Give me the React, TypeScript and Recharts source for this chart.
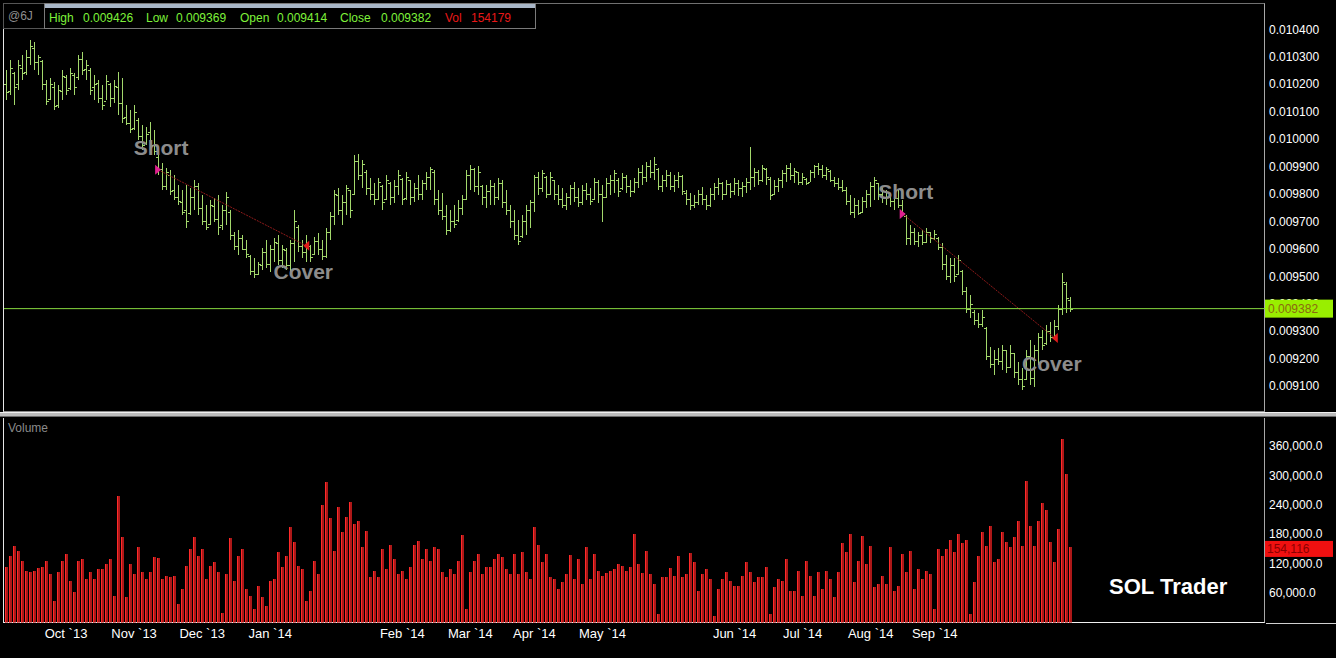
import React from "react";
import { ComposedChart, Bar, XAxis, YAxis, ReferenceLine, ReferenceDot } from "recharts";

// Prices in millionths (0.010200 -> 10200)
const openP = [
  10200, 10175, 10240, 10200, 10260, 10245, 10300, 10330, 10280, 10285,
  10200, 10145, 10190, 10125, 10175, 10225, 10185, 10235, 10225, 10290,
  10255, 10250, 10190, 10205, 10150, 10140, 10200, 10150, 10190, 10130,
  10080, 10060, 10040, 10070, 10010, 9985, 10025, 9980, 9935, 9890,
  9830, 9870, 9815, 9790, 9770, 9740, 9730, 9790, 9830, 9750,
  9700, 9690, 9755, 9710, 9685, 9740, 9735, 9650, 9610, 9640,
  9600, 9575, 9520, 9510, 9540, 9590, 9545, 9600, 9620, 9560,
  9595, 9540, 9620, 9680, 9610, 9590, 9610, 9580, 9630, 9600,
  9575, 9660, 9720, 9795, 9740, 9770, 9815, 9800, 9920, 9870,
  9880, 9820, 9800, 9780, 9830, 9780, 9840, 9790, 9830, 9855,
  9785, 9850, 9790, 9820, 9800, 9840, 9860, 9880, 9780, 9740,
  9720, 9670, 9700, 9705, 9750, 9780, 9870, 9890, 9830, 9830,
  9790, 9810, 9830, 9790, 9840, 9770, 9740, 9700, 9650, 9645,
  9700, 9740, 9770, 9860, 9820, 9860, 9800, 9850, 9800, 9780,
  9760, 9790, 9820, 9790, 9770, 9815, 9800, 9780, 9845, 9800,
  9790, 9840, 9850, 9850, 9820, 9860, 9830, 9810, 9845, 9880,
  9860, 9900, 9880, 9890, 9830, 9850, 9870, 9830, 9850, 9865,
  9805, 9780, 9760, 9770, 9800, 9780, 9760, 9800, 9825, 9840,
  9800, 9835, 9810, 9840, 9820, 9830, 9845, 9860, 9880, 9850,
  9890, 9855, 9800, 9830, 9850, 9875, 9895, 9870, 9880, 9845,
  9855, 9845, 9880, 9900, 9890, 9870, 9885, 9850, 9840, 9825,
  9815, 9775, 9735, 9760, 9735, 9775, 9800, 9830, 9840, 9800,
  9810, 9790, 9775, 9785, 9760, 9720, 9640, 9660, 9630, 9650,
  9625, 9660, 9640, 9640, 9605, 9545, 9500, 9540, 9510, 9520,
  9445, 9380, 9370, 9340, 9325, 9310, 9210, 9180, 9200, 9190,
  9230, 9170, 9220, 9150, 9125, 9125, 9210, 9130, 9230, 9280,
  9255, 9300, 9280, 9320, 9380, 9470, 9414,
];

const highP = [
  10252, 10288, 10245, 10288, 10307, 10325, 10361, 10354, 10307, 10288,
  10216, 10223, 10208, 10197, 10252, 10234, 10259, 10241, 10307, 10318,
  10288, 10259, 10234, 10216, 10197, 10234, 10205, 10216, 10245, 10223,
  10124, 10106, 10124, 10077, 10052, 10044, 10062, 10033, 9942, 9913,
  9895, 9888, 9869, 9833, 9815, 9833, 9822, 9851, 9840, 9796,
  9760, 9778, 9785, 9796, 9760, 9807, 9742, 9662, 9669, 9651,
  9632, 9578, 9567, 9552, 9603, 9632, 9614, 9640, 9651, 9614,
  9603, 9632, 9742, 9687, 9632, 9651, 9614, 9643, 9658, 9632,
  9676, 9734, 9815, 9822, 9796, 9833, 9815, 9942, 9946, 9924,
  9888, 9858, 9840, 9858, 9833, 9869, 9844, 9851, 9888, 9858,
  9880, 9851, 9840, 9869, 9851, 9880, 9898, 9888, 9815, 9804,
  9760, 9742, 9760, 9778, 9796, 9888, 9906, 9895, 9902, 9833,
  9833, 9851, 9840, 9858, 9851, 9815, 9760, 9742, 9705, 9723,
  9760, 9778, 9869, 9880, 9888, 9866, 9880, 9851, 9833, 9822,
  9804, 9833, 9844, 9822, 9833, 9840, 9822, 9858, 9851, 9833,
  9858, 9869, 9888, 9858, 9877, 9869, 9851, 9858, 9895, 9906,
  9917, 9924, 9935, 9895, 9869, 9888, 9880, 9869, 9880, 9869,
  9815, 9804, 9796, 9815, 9826, 9796, 9822, 9840, 9858, 9844,
  9851, 9840, 9858, 9851, 9844, 9858, 9971, 9895, 9888, 9906,
  9895, 9862, 9851, 9858, 9888, 9906, 9913, 9895, 9880, 9877,
  9858, 9888, 9906, 9913, 9906, 9898, 9888, 9862, 9858, 9851,
  9826, 9796, 9785, 9778, 9789, 9815, 9844, 9862, 9840, 9822,
  9815, 9804, 9796, 9815, 9778, 9723, 9687, 9676, 9662, 9669,
  9676, 9662, 9669, 9643, 9622, 9578, 9567, 9567, 9578, 9523,
  9461, 9432, 9377, 9366, 9377, 9315, 9242, 9232, 9239, 9250,
  9232, 9250, 9221, 9188, 9166, 9232, 9268, 9250, 9294, 9304,
  9323, 9333, 9341, 9396, 9512, 9479, 9426,
];

const lowP = [
  10143, 10161, 10124, 10179, 10216, 10234, 10270, 10252, 10234, 10179,
  10124, 10143, 10106, 10113, 10143, 10161, 10179, 10161, 10216, 10234,
  10216, 10161, 10143, 10132, 10106, 10143, 10117, 10132, 10088, 10059,
  10052, 10022, 10033, 9997, 9960, 9979, 9960, 9942, 9869, 9815,
  9815, 9796, 9778, 9760, 9723, 9676, 9723, 9742, 9723, 9687,
  9669, 9687, 9698, 9651, 9669, 9687, 9632, 9596, 9578, 9596,
  9567, 9505, 9494, 9505, 9523, 9530, 9516, 9552, 9541, 9530,
  9523, 9505, 9552, 9589, 9567, 9552, 9552, 9578, 9578, 9560,
  9567, 9632, 9687, 9723, 9687, 9723, 9713, 9796, 9851, 9822,
  9796, 9778, 9760, 9778, 9742, 9778, 9760, 9767, 9796, 9760,
  9778, 9760, 9771, 9778, 9778, 9815, 9815, 9760, 9723, 9705,
  9651, 9662, 9676, 9698, 9723, 9778, 9815, 9807, 9796, 9760,
  9749, 9760, 9760, 9778, 9749, 9723, 9676, 9632, 9614, 9640,
  9651, 9676, 9734, 9796, 9807, 9785, 9796, 9778, 9760, 9749,
  9742, 9760, 9771, 9753, 9760, 9778, 9760, 9778, 9767, 9698,
  9785, 9796, 9804, 9789, 9815, 9804, 9789, 9804, 9822, 9833,
  9844, 9858, 9851, 9815, 9807, 9826, 9815, 9807, 9822, 9796,
  9760, 9742, 9749, 9760, 9760, 9742, 9753, 9778, 9796, 9778,
  9796, 9785, 9796, 9793, 9789, 9804, 9815, 9826, 9833, 9844,
  9833, 9778, 9796, 9807, 9822, 9844, 9851, 9840, 9833, 9833,
  9833, 9844, 9858, 9869, 9858, 9851, 9844, 9826, 9815, 9807,
  9760, 9723, 9713, 9723, 9731, 9749, 9753, 9778, 9778, 9767,
  9760, 9753, 9742, 9749, 9723, 9614, 9614, 9614, 9607, 9614,
  9622, 9622, 9632, 9596, 9523, 9487, 9476, 9479, 9505, 9432,
  9366, 9348, 9323, 9312, 9315, 9195, 9166, 9140, 9177, 9159,
  9148, 9166, 9130, 9104, 9086, 9122, 9104, 9097, 9177, 9232,
  9250, 9262, 9268, 9304, 9359, 9366, 9369,
];

const closeP = [
  10170, 10260, 10190, 10270, 10240, 10300, 10340, 10280, 10300, 10200,
  10140, 10200, 10120, 10180, 10230, 10180, 10240, 10190, 10290, 10250,
  10270, 10180, 10200, 10150, 10125, 10210, 10150, 10195, 10130, 10075,
  10060, 10035, 10100, 10010, 9980, 10020, 9975, 9955, 9890, 9830,
  9880, 9810, 9790, 9775, 9735, 9700, 9790, 9830, 9750, 9700,
  9680, 9760, 9710, 9680, 9740, 9790, 9650, 9610, 9640, 9600,
  9580, 9520, 9510, 9545, 9590, 9545, 9600, 9625, 9560, 9600,
  9540, 9620, 9700, 9610, 9590, 9615, 9570, 9630, 9600, 9575,
  9660, 9720, 9800, 9740, 9770, 9820, 9740, 9920, 9870, 9910,
  9820, 9800, 9780, 9845, 9770, 9850, 9790, 9830, 9870, 9780,
  9860, 9790, 9820, 9800, 9840, 9860, 9890, 9780, 9740, 9720,
  9670, 9700, 9690, 9750, 9780, 9870, 9890, 9830, 9880, 9790,
  9810, 9830, 9790, 9840, 9770, 9740, 9700, 9650, 9630, 9700,
  9740, 9770, 9860, 9820, 9875, 9800, 9860, 9800, 9780, 9760,
  9790, 9820, 9790, 9770, 9815, 9800, 9775, 9845, 9800, 9790,
  9840, 9850, 9875, 9810, 9860, 9830, 9810, 9845, 9880, 9860,
  9900, 9880, 9910, 9830, 9850, 9870, 9830, 9850, 9865, 9810,
  9780, 9760, 9770, 9800, 9780, 9760, 9800, 9825, 9840, 9800,
  9835, 9810, 9840, 9820, 9830, 9845, 9860, 9880, 9850, 9895,
  9860, 9795, 9830, 9850, 9875, 9895, 9870, 9885, 9845, 9860,
  9840, 9880, 9900, 9890, 9870, 9890, 9850, 9840, 9825, 9815,
  9775, 9735, 9760, 9730, 9775, 9800, 9830, 9850, 9800, 9810,
  9790, 9775, 9785, 9760, 9730, 9640, 9660, 9630, 9650, 9625,
  9660, 9640, 9655, 9605, 9545, 9500, 9540, 9500, 9560, 9445,
  9380, 9400, 9340, 9325, 9350, 9210, 9180, 9200, 9190, 9230,
  9170, 9220, 9150, 9125, 9100, 9210, 9130, 9230, 9280, 9250,
  9300, 9280, 9320, 9380, 9480, 9420, 9382,
];

// Volume in thousands of contracts
const volumeK = [
  113, 135, 155, 145, 125, 105, 103, 105, 111, 113,
  125, 98, 44, 103, 125, 139, 84, 62, 125, 129,
  88, 103, 88, 109, 109, 119, 129, 54, 257, 174,
  52, 119, 98, 153, 103, 88, 103, 133, 131, 88,
  94, 92, 94, 38, 68, 115, 149, 174, 135, 149,
  88, 115, 123, 103, 19, 98, 172, 84, 135, 149,
  68, 54, 28, 74, 52, 34, 84, 88, 143, 113,
  135, 194, 165, 115, 109, 44, 64, 125, 98, 240,
  287, 214, 145, 236, 184, 216, 246, 200, 206, 153,
  186, 92, 105, 92, 149, 109, 159, 129, 98, 105,
  88, 113, 159, 167, 129, 149, 125, 153, 149, 103,
  92, 109, 98, 125, 178, 28, 103, 125, 139, 98,
  113, 113, 129, 139, 133, 109, 98, 139, 98, 143,
  103, 88, 194, 159, 123, 139, 92, 88, 68, 82,
  98, 137, 88, 129, 78, 153, 88, 139, 105, 94,
  101, 105, 109, 119, 115, 105, 113, 180, 119, 101,
  145, 98, 78, 17, 92, 92, 111, 94, 135, 92,
  98, 141, 123, 64, 98, 109, 88, 13, 68, 88,
  103, 84, 74, 74, 94, 123, 103, 82, 92, 92,
  113, 17, 72, 88, 84, 129, 64, 64, 105, 54,
  125, 94, 54, 103, 68, 105, 88, 52, 103, 163,
  143, 180, 82, 125, 176, 119, 155, 72, 78, 94,
  78, 153, 64, 74, 139, 103, 145, 68, 109, 88,
  105, 98, 28, 149, 135, 149, 169, 143, 180, 163,
  169, 17, 82, 135, 184, 155, 196, 123, 129, 184,
  165, 153, 174, 206, 155, 289, 196, 155, 206, 244,
  230, 165, 123, 190, 374, 303, 154.116,
];

const monthTickIdx = [15, 32, 49, 66, 99, 116, 132, 149, 182, 199, 216, 232];
const monthLabels = ["Oct `13", "Nov `13", "Dec `13", "Jan `14", "Feb `14", "Mar `14", "Apr `14", "May `14", "Jun `14", "Jul `14", "Aug `14", "Sep `14"];

const priceTicks = [0.0091, 0.0092, 0.0093, 0.0094, 0.0095, 0.0096, 0.0097, 0.0098, 0.0099, 0.01, 0.0101, 0.0102, 0.0103, 0.0104];
const volumeTicks = [60000, 120000, 180000, 240000, 300000, 360000];

const shortIdx = [38, 224];
const shortPrice = [9888, 9727];
const coverIdx = [75, 262];
const coverPrice = [9611, 9275];

const headerVol = 154179;

const SLOT_COUNT = 315;
const BAR_GREEN = "#a3d86c";
const PRICE_DOMAIN: [number, number] = [0.009009, 0.010492];
const VOL_DOMAIN: [number, number] = [0, 417000];

type Row = { i: number; open?: number; high?: number; low?: number; close?: number; volume?: number };

const rows: Row[] = Array.from({ length: SLOT_COUNT }, (_, i) =>
  i < closeP.length
    ? {
        i,
        open: openP[i] / 1e6,
        high: highP[i] / 1e6,
        low: lowP[i] / 1e6,
        close: closeP[i] / 1e6,
        volume: Math.round(volumeK[i] * 1000),
      }
    : { i }
);

const last = closeP.length - 1;
const lastClose = closeP[last] / 1e6;
const lastVol = Math.round(volumeK[last] * 1000);

const OhlcShape = (props: any) => {
  const { x, y, width, height, payload } = props;
  if (!payload || payload.high == null || x == null || y == null) return <g />;
  const top = Math.min(y, y + height);
  const h = Math.abs(height);
  const range = payload.high - payload.low || 1;
  const yO = Math.round(top + ((payload.high - payload.open) / range) * h) + 0.5;
  const yC = Math.round(top + ((payload.high - payload.close) / range) * h) + 0.5;
  const c = Math.round(x + width / 2 - 0.5);
  return (
    <g stroke={BAR_GREEN} strokeWidth={1} shapeRendering="crispEdges">
      <line x1={c + 0.5} x2={c + 0.5} y1={top} y2={top + h} />
      <line x1={c - 2} x2={c} y1={yO} y2={yO} />
      <line x1={c + 1} x2={c + 3} y1={yC} y2={yC} />
    </g>
  );
};

const VolShape = (props: any) => {
  const { x, y, width, height, payload } = props;
  if (!payload || payload.volume == null || !height) return <g />;
  const c = Math.round(x + width / 2 - 0.5);
  return (
    <g shapeRendering="crispEdges">
      <rect x={c - 1} y={y} width={3} height={height} fill="#ad1818" />
      <rect x={c - 1} y={y} width={1} height={height} fill="#ff2a2a" />
    </g>
  );
};

const MonthTick = (props: any) => {
  const { x, y, payload } = props;
  const k = monthTickIdx.indexOf(payload?.value);
  if (k < 0) return <g />;
  return (
    <text x={x} y={y + 9} textAnchor="middle" dominantBaseline="central" fill="#ffffff" fontSize={13}>
      {monthLabels[k]}
    </text>
  );
};

const PriceTag = (props: any) => {
  const vb = props.viewBox;
  if (!vb) return <g />;
  const x = vb.x + vb.width;
  const y = vb.y;
  return (
    <g>
      <rect x={x} y={y - 9} width={68} height={18} fill="#99ee00" />
      <text x={x + 3} y={y} dominantBaseline="central" fill="#8a6a10" fontSize={12}>
        {lastClose.toFixed(6)}
      </text>
    </g>
  );
};

const VolTag = (props: any) => {
  const vb = props.viewBox;
  if (!vb) return <g />;
  const x = vb.x + vb.width;
  const y = vb.y;
  return (
    <g>
      <rect x={x} y={y - 6} width={68} height={16} fill="#f01010" />
      <text x={x + 2} y={y + 2} dominantBaseline="central" fill="#8a0000" fontSize={12}>
        {lastVol.toLocaleString("en-US")}
      </text>
    </g>
  );
};

const ShortMark = (p: any) => {
  const { cx, cy } = p;
  return (
    <g>
      <polygon points={`${cx - 3},${cy - 5} ${cx + 3},${cy} ${cx - 3},${cy + 5}`} fill="#e0208f" />
      <text x={cx + 3} y={cy - 22} textAnchor="middle" dominantBaseline="central" fill="#8c8c8c" fontSize={21} fontWeight="bold">
        Short
      </text>
    </g>
  );
};

const CoverMark = (p: any) => {
  const { cx, cy } = p;
  return (
    <g>
      <polygon points={`${cx + 3},${cy - 5} ${cx - 3},${cy} ${cx + 3},${cy + 5}`} fill="#e01b1b" />
      <text x={cx - 3} y={cy + 26} textAnchor="middle" dominantBaseline="central" fill="#8c8c8c" fontSize={21} fontWeight="bold">
        Cover
      </text>
    </g>
  );
};

const abs = (s: React.CSSProperties): React.CSSProperties => ({ position: "absolute", ...s });

export default function App() {
  const f6 = (v: number) => (v / 1e6).toFixed(6);
  return (
    <div
      style={abs({
        left: 0,
        top: 0,
        width: 1336,
        height: 658,
        background: "#000000",
        overflow: "hidden",
        fontFamily: "'Liberation Sans', Arial, sans-serif",
      })}
    >
      {/* panel frames */}
      <div style={abs({ left: 3, top: 3, width: 1260, height: 407, borderTop: "1px solid #707070", borderLeft: "1px solid #e6e6e6", borderRight: "1px solid #a8a8a8", borderBottom: "1px solid #8a8a8a" })} />
      <div style={abs({ left: 0, top: 412, width: 1336, height: 1, background: "#f0f0f0" })} />
      <div style={abs({ left: 0, top: 413, width: 1336, height: 3, background: "#bcbcbc" })} />
      <div style={abs({ left: 0, top: 416, width: 1336, height: 1, background: "#6a6a6a" })} />
      <div style={abs({ left: 3, top: 418, width: 1260, height: 204, borderLeft: "1px solid #e6e6e6", borderRight: "1px solid #a8a8a8", borderBottom: "1px solid #f0f0f0" })} />
      <div style={abs({ left: 1266, top: 623, width: 70, height: 1, background: "#d0d0d0" })} />

      {/* price panel */}
      <div style={abs({ left: 0, top: 0 })}>
        <ComposedChart width={1336} height={415} data={rows} margin={{ top: 4, right: 0, bottom: 4, left: 4 }} barCategoryGap={0} barGap={0}>
          <XAxis dataKey="i" type="category" hide />
          <YAxis
            orientation="right"
            width={71}
            type="number"
            domain={PRICE_DOMAIN}
            allowDataOverflow
            ticks={priceTicks}
            tickFormatter={(v: number) => v.toFixed(6)}
            axisLine={false}
            tickLine={false}
            tickSize={0}
            tickMargin={4}
            tick={{ fill: "#ffffff", fontSize: 12 }}
          />
          <Bar dataKey={(d: Row) => (d.high == null ? null : [d.low, d.high])} shape={<OhlcShape />} isAnimationActive={false} />
          {shortIdx.map((s, k) => (
            <ReferenceLine
              key={`tl${k}`}
              segment={[
                { x: s, y: shortPrice[k] / 1e6 },
                { x: coverIdx[k], y: coverPrice[k] / 1e6 },
              ]}
              stroke="#8e1a1a"
              strokeDasharray="2 1"
              strokeWidth={1}
            />
          ))}
          {shortIdx.map((s, k) => (
            <ReferenceDot key={`s${k}`} x={s} y={shortPrice[k] / 1e6} r={4} shape={(p: any) => <ShortMark {...p} />} />
          ))}
          {coverIdx.map((c, k) => (
            <ReferenceDot key={`c${k}`} x={c} y={coverPrice[k] / 1e6} r={4} shape={(p: any) => <CoverMark {...p} />} />
          ))}
        </ComposedChart>
      </div>

      {/* price overlay: last-price line and axis tag drawn above the axis labels */}
      <div style={abs({ left: 0, top: 0 })}>
        <ComposedChart width={1336} height={415} data={rows} margin={{ top: 4, right: 71, bottom: 4, left: 4 }}>
          <XAxis dataKey="i" type="category" hide />
          <YAxis type="number" domain={PRICE_DOMAIN} allowDataOverflow hide />
          <ReferenceLine y={lastClose} stroke="#86d83e" strokeWidth={1} label={<PriceTag />} />
        </ComposedChart>
      </div>

      {/* volume panel */}
      <div style={abs({ left: 0, top: 415 })}>
        <ComposedChart width={1336} height={243} data={rows} margin={{ top: 3, right: 0, bottom: 0, left: 4 }} barCategoryGap={0} barGap={0}>
          <XAxis dataKey="i" type="category" interval={0} height={35.5} axisLine={false} tickLine={false} tickSize={0} tick={<MonthTick />} />
          <YAxis
            orientation="right"
            width={71}
            type="number"
            domain={VOL_DOMAIN}
            allowDataOverflow
            ticks={volumeTicks}
            tickFormatter={(v: number) => v.toLocaleString("en-US", { minimumFractionDigits: 1, maximumFractionDigits: 1 })}
            axisLine={false}
            tickLine={false}
            tickSize={0}
            tickMargin={4}
            tick={{ fill: "#ffffff", fontSize: 12 }}
          />
          <Bar dataKey="volume" shape={<VolShape />} isAnimationActive={false} />
        </ComposedChart>
      </div>

      {/* volume overlay: last-volume axis tag */}
      <div style={abs({ left: 0, top: 415 })}>
        <ComposedChart width={1336} height={243} data={rows} margin={{ top: 3, right: 71, bottom: 35.5, left: 4 }}>
          <XAxis dataKey="i" type="category" hide />
          <YAxis type="number" domain={VOL_DOMAIN} allowDataOverflow hide />
          <ReferenceLine y={lastVol} stroke="#000000" strokeOpacity={0} label={<VolTag />} />
        </ComposedChart>
      </div>

      {/* header */}
      <div style={abs({ left: 3, top: 3, width: 40, height: 24, border: "1px solid #555555", background: "#000" })} />
      <div style={abs({ left: 8, top: 9, fontSize: 12, color: "#8e8e8e", lineHeight: "14px" })}>@6J</div>
      <div style={abs({ left: 44, top: 3, width: 490, height: 24, border: "1px solid #7a7a7a", background: "#000" })} />
      <div style={abs({ left: 45, top: 4, width: 490, height: 4, background: "#a9b7c8" })} />
      {[
        { t: "High", x: 49, c: "#7ef23a" },
        { t: f6(highP[last]), x: 83, c: "#7ef23a" },
        { t: "Low", x: 146, c: "#7ef23a" },
        { t: f6(lowP[last]), x: 176, c: "#7ef23a" },
        { t: "Open", x: 240, c: "#7ef23a" },
        { t: f6(openP[last]), x: 277, c: "#7ef23a" },
        { t: "Close", x: 340, c: "#7ef23a" },
        { t: f6(closeP[last]), x: 381, c: "#7ef23a" },
        { t: "Vol", x: 445, c: "#e81818" },
        { t: String(headerVol), x: 471, c: "#e81818" },
      ].map((h, k) => (
        <div key={k} style={abs({ left: h.x, top: 11, fontSize: 12, color: h.c, lineHeight: "14px", whiteSpace: "pre" })}>
          {h.t}
        </div>
      ))}

      <div style={abs({ left: 8, top: 421, fontSize: 12, color: "#8a8a8a", lineHeight: "14px" })}>Volume</div>
      <div style={abs({ left: 1109, top: 574, fontSize: 22, fontWeight: "bold", color: "#ffffff", lineHeight: "26px", whiteSpace: "pre" })}>
        SOL Trader
      </div>
    </div>
  );
}
